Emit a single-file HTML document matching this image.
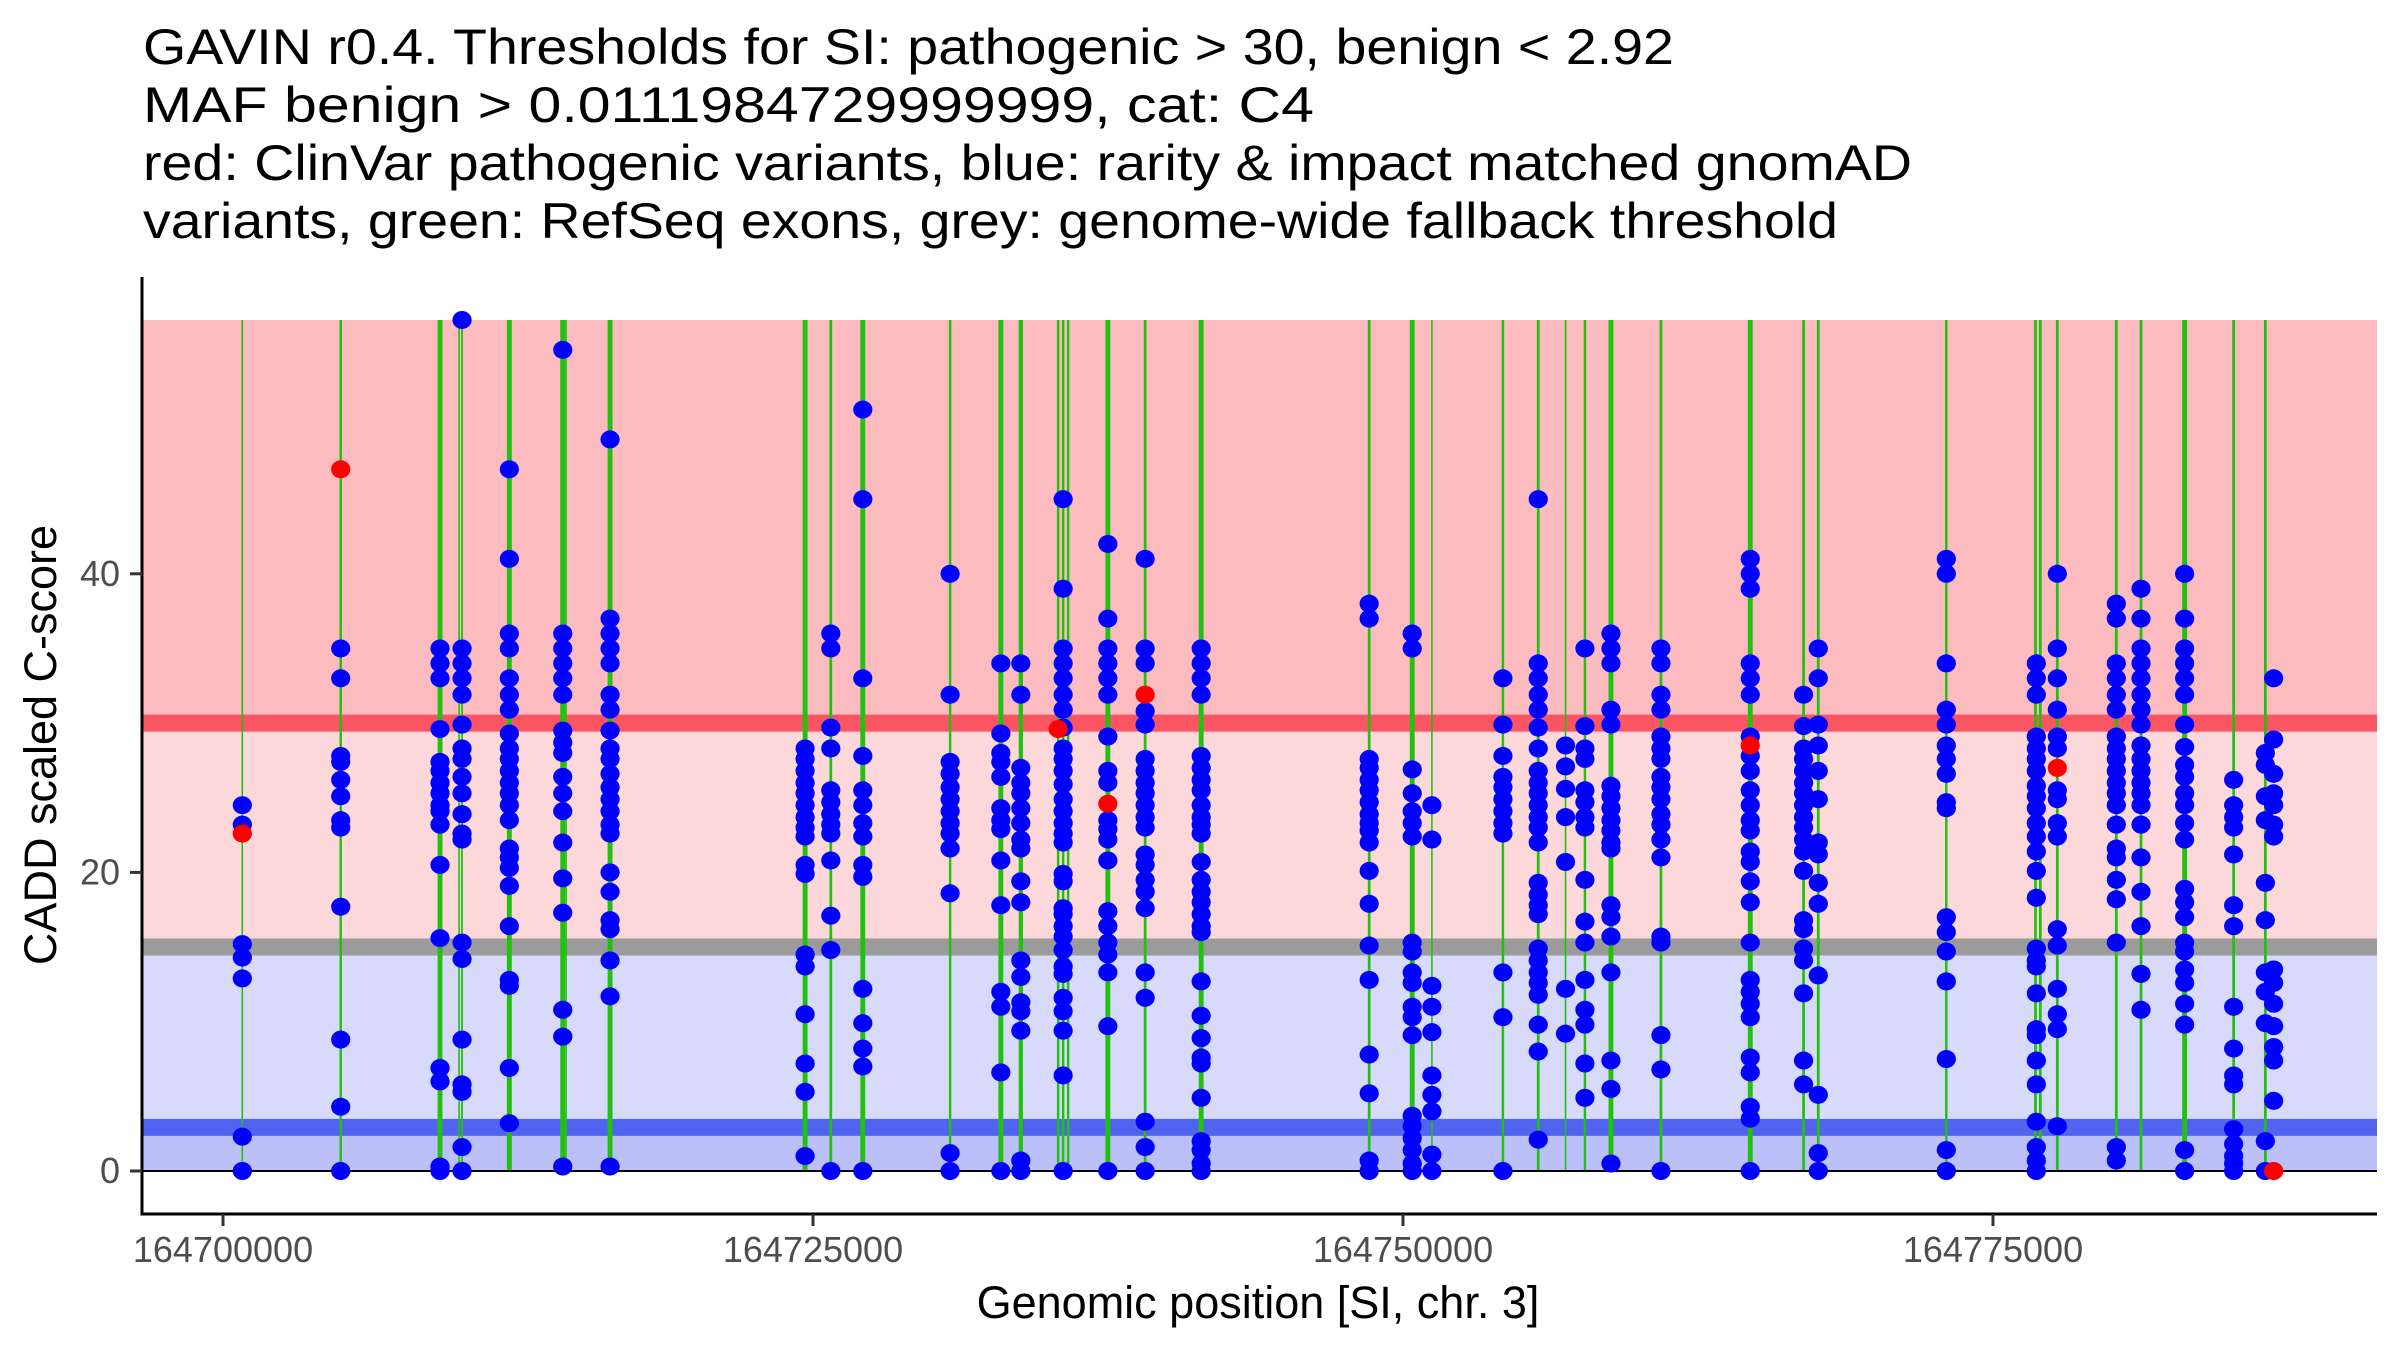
<!DOCTYPE html>
<html><head><meta charset="utf-8">
<style>
html,body{margin:0;padding:0;background:#fff;}
svg{display:block;font-family:"Liberation Sans",Arial,sans-serif;}
</style></head>
<body>
<svg id="chart" width="2400" height="1350" viewBox="0 0 2400 1350" xmlns="http://www.w3.org/2000/svg">
  <g font-size="50" fill="#000">
    <text x="143" y="64" textLength="1531" lengthAdjust="spacingAndGlyphs">GAVIN r0.4. Thresholds for SI: pathogenic &gt; 30, benign &lt; 2.92</text>
    <text x="143" y="122" textLength="1171" lengthAdjust="spacingAndGlyphs">MAF benign &gt; 0.0111984729999999, cat: C4</text>
    <text x="143" y="180" textLength="1769" lengthAdjust="spacingAndGlyphs">red: ClinVar pathogenic variants, blue: rarity &amp; impact matched gnomAD</text>
    <text x="143" y="238" textLength="1695" lengthAdjust="spacingAndGlyphs">variants, green: RefSeq exons, grey: genome-wide fallback threshold</text>
  </g>
  <g id="bands"></g>
  <g id="exons"></g>
  <g id="zero"></g>
  <g id="points"></g>
  <g id="axes"></g>
  <text x="1258" y="1318" font-size="45" text-anchor="middle" fill="#000">Genomic position [SI, chr. 3]</text>
  <text transform="translate(56,745) rotate(-90)" font-size="45" text-anchor="middle" fill="#000">CADD scaled C-score</text>
</svg>
<script>
const xTicks = [164700000, 164725000, 164750000, 164775000];
const xTickLabels = ["164700000", "164725000", "164750000", "164775000"];
const yTicks = [0, 20, 40];
const yTickLabels = ["0", "20", "40"];
const pathogenicThreshold = 30;
const benignThreshold = 2.92;
const fallbackThreshold = 15;
const scoreMax = 57;

const exonStart = [164700818,164704988,164709196,164710002,164710129,164712133,164714396,164714536,164716401,
  164724665,164725754,164727110,164730810,164732959,164733806,164735387,164735599,164735811,164737494,
  164739074,164741448,164748567,164750390,164751225,164754234,164755730,164756887,164757709,164758811,
  164760930,164764714,164766973,164767596,164773021,164776800,164777005,164777725,164780225,164781272,
  164783120,164785197,164786540];
const exonLength = [30,80,160,30,60,160,160,30,160,
  160,90,160,80,160,140,80,80,80,160,
  90,160,90,160,30,80,90,30,80,160,
  90,160,90,90,80,90,90,90,90,90,
  160,90,90];

const gnomadColPos = [164700818,164704988,164709196,164710129,164712133,164714396,164716401,164724665,164725754,
  164727110,164730810,164732959,164733806,164735599,164737494,164739074,164741448,164748567,164750390,
  164751225,164754234,164755730,164756887,164757709,164758811,164760930,164764714,164766973,164767596,
  164773021,164776835,164777725,164780225,164781272,164783120,164785197,164786540,164786892];
const gnomadColScores = [
  [24.5,23.2,15.2,14.3,12.9,2.3,0],
  [35,33,27.8,27.4,26.2,25.1,23.5,23,17.7,8.8,4.3,0],
  [35,34,33,29.6,27.4,26.8,26,25.3,24.5,24.1,23.2,20.5,15.6,6.9,6,0.3,0],
  [57,35,34,33,31.9,29.9,28.3,27.6,26.4,25.3,23.9,22.6,22.2,15.3,14.2,8.8,5.8,5.3,1.6,0],
  [47,41,36,35,33,31.9,30.9,29.3,28.3,27.6,26.8,26,25.3,24.5,23.5,21.6,21,20.3,19.1,16.4,12.8,12.4,6.9,3.2],
  [55,36,35,34,33,31.9,29.5,28.7,28,26.4,25.3,24.1,22,19.6,17.3,10.8,9,0.3],
  [49,37,36,35,34,31.9,30.9,29.5,28.3,27.6,26.6,25.7,24.9,24.1,23.2,22.6,20,18.7,16.8,16.2,14.1,11.7,0.3],
  [28.3,27.6,26.8,26,25.3,24.5,23.7,23,22.4,20.5,19.9,14.5,13.7,10.5,7.2,5.3,1],
  [36,35,29.7,28.3,25.5,24.7,23.9,23.2,22.6,20.8,17.1,14.8,0],
  [51,45,33,27.8,25.5,24.5,23.3,22.4,20.5,19.7,12.2,9.9,8.2,7,0],
  [40,31.9,27.4,26.6,25.7,24.9,24.1,23.3,22.6,21.6,18.6,1.2,0],
  [34,29.3,28,27.4,26.4,24.3,23.5,22.9,20.8,17.8,12,11,6.6,0],
  [34,31.9,27,26,25.3,24.3,23.3,22.2,21.6,19.4,18,14.1,13,11.3,10.7,9.4,0.7,0],
  [45,39,35,34,33,31.9,30.9,29.7,28.3,27.6,26.8,25.9,24.9,24.1,23.3,22.6,22,19.9,19.4,17.6,17.2,16.4,15.7,14.8,13.7,13.2,11.6,10.7,9.4,6.4,0],
  [42,37,35,34,33,31.9,29.1,26.8,26,23.5,22.9,22.2,20.8,17.4,16.4,15.3,14.5,13.3,9.7,0],
  [41,35,34,30.8,29.9,27.6,26.8,26,25.3,24.5,23.7,23,21.2,20.5,19.5,18.7,17.6,13.3,11.6,3.3,1.6,0],
  [35,34,33,31.9,27.8,27,26.2,25.5,24.5,23.7,23.2,22.6,20.7,19.5,18.7,18,17.2,16.4,16,12.7,10.4,8.9,7.6,7.2,4.9,2,1.4,0.5,0],
  [38,37,27.6,27,26.2,25.5,24.7,23.9,23.3,22.8,22,20.1,17.9,15.1,12.8,7.8,5.2,0.7,0],
  [36,35,26.9,25.3,24.1,23.3,22.4,15.3,14.7,13.3,12.6,11,10.3,9.1,3.7,3,2.2,1.4,0.5,0],
  [24.5,22.2,12.4,11,9.3,6.4,5.1,4,1.1,0],
  [33,29.9,27.8,26.4,25.7,24.9,24.1,23.3,22.6,13.3,10.3,0],
  [45,34,33,31.9,30.9,29.7,28.3,26.8,26,25.3,24.5,23.7,23,22,19.3,18.5,17.8,17.2,14.9,14.1,13.3,12.6,11.8,9.8,8,2.1],
  [28.5,27.1,25.6,23.7,20.7,12.2,9.2],
  [35,29.8,28.3,27.6,25.5,24.7,23.7,23,19.5,16.7,15.3,12.8,10.8,9.8,7.2,4.9],
  [36,35,34,30.9,29.9,25.8,25.1,24.3,23.5,22.8,22,21.6,17.8,17,15.7,13.3,7.4,5.5,0.5],
  [35,34,31.9,30.9,29.1,28.3,27.6,26.4,25.7,24.9,23.9,23.2,22.2,21,15.7,15.3,9.1,6.8,0],
  [41,40,39,34,33,31.9,29.1,27.8,26.8,25.5,24.5,23.5,22.8,21.4,20.7,19.4,18,15.3,12.8,12,11.2,10.3,7.6,6.6,4.3,3.5,0],
  [31.9,29.8,28.3,27.6,26.8,26,25.3,24.5,23.7,23,22.2,21.4,20.1,16.8,16.2,14.9,14.1,11.9,7.4,5.8],
  [35,33,29.9,28.5,26.8,24.9,22,21.2,19.3,17.9,13.1,5.1,1.2,0],
  [41,40,34,30.9,29.9,28.5,27.6,26.6,24.7,24.3,17,16,14.7,12.7,7.5,1.4,0],
  [34,33,31.9,29.1,28.3,27.6,26.8,25.8,25.1,24.3,23.3,22.4,21.4,20.1,18.3,14.9,14.1,13.7,11.9,9.5,9.1,7.4,5.8,3.3,1.6,0.7,0],
  [40,35,33,30.9,29.1,28.3,25.5,24.9,23.3,22.4,16.2,15.1,12.2,10.5,9.5,3],
  [38,37,34,33,31.9,30.9,29.1,28.3,27.6,26.8,26,25.3,24.5,23.2,21.6,21,19.5,18.2,15.3,1.6,0.7],
  [39,37,35,34,33,31.9,30.9,29.9,28.5,27.6,26.8,26,25.3,24.5,23.2,21,18.7,16.4,13.2,10.8],
  [40,37,35,34,33,31.9,29.9,28.4,27.2,26.4,25.3,24.5,23.3,22.2,18.9,18,17,15.3,14.7,13.5,12.6,11.2,9.8,1.4,0],
  [26.2,24.5,23.7,23,21.2,17.8,16.4,11,8.2,6.4,5.8,2.8,1.8,1,0.5,0],
  [28,27.2,25.1,23.5,19.3,16.8,13.3,12,9.9,2,0],
  [33,28.9,26.6,25.3,24.5,23.2,22.4,13.5,12.6,11.2,9.7,8.3,7.4,4.7]
];
const clinvarPos = [164700818,164704988,164735387,164737494,164739074,164764714,164777725,164786892];
const clinvarScore = [22.6,47.0,29.6,24.6,31.9,28.5,27.0,0];

const NS = "http://www.w3.org/2000/svg";
const plotLeft = 142, plotRight = 2377, panelBottom = 1214, panelTop = 277;
const X0 = 164700000, xPxPerBp = (1993 - 223) / 75000;
function xScale(p){ return 223 + (p - X0) * xPxPerBp; }
function yScale(v){ return 1171 - v * 14.93; }
function mk(tag, attrs, parent){
  const e = document.createElementNS(NS, tag);
  for (const k in attrs) e.setAttribute(k, attrs[k]);
  parent.appendChild(e);
  return e;
}

const bands = document.getElementById('bands');
let r;
r = mk('rect', {x: plotLeft, y: yScale(scoreMax), width: plotRight - plotLeft, height: yScale(pathogenicThreshold) - yScale(scoreMax), fill: '#FCBBBF'}, bands);


r = mk('rect', {x: plotLeft, y: yScale(pathogenicThreshold), width: plotRight - plotLeft, height: yScale(fallbackThreshold) - yScale(pathogenicThreshold), fill: '#FDD8DB'}, bands);


r = mk('rect', {x: plotLeft, y: yScale(fallbackThreshold), width: plotRight - plotLeft, height: yScale(benignThreshold) - yScale(fallbackThreshold), fill: '#D7DAFA'}, bands);


r = mk('rect', {x: plotLeft, y: yScale(benignThreshold), width: plotRight - plotLeft, height: yScale(0) - yScale(benignThreshold), fill: '#BBC1F8'}, bands);


let l;
l = mk('line', {x1: plotLeft, x2: plotRight, y1: yScale(pathogenicThreshold), y2: yScale(pathogenicThreshold), stroke: '#F95563', 'stroke-width': 17}, bands);


l = mk('line', {x1: plotLeft, x2: plotRight, y1: yScale(fallbackThreshold), y2: yScale(fallbackThreshold), stroke: '#9B9B9B', 'stroke-width': 17}, bands);


l = mk('line', {x1: plotLeft, x2: plotRight, y1: yScale(benignThreshold), y2: yScale(benignThreshold), stroke: '#5064F0', 'stroke-width': 17}, bands);



const exG = document.getElementById('exons');
for (let i = 0; i < exonStart.length; i++){
  const x1 = xScale(exonStart[i]);
  const w = Math.max(1.6, exonLength[i] * xPxPerBp * 1.3);
  const e = mk('rect', {x: x1 - w/2, y: yScale(scoreMax), width: w, height: yScale(0) - yScale(scoreMax), fill: '#22C10F'}, exG);
  
  
}

const z = mk('line', {x1: plotLeft, x2: plotRight, y1: yScale(0), y2: yScale(0), stroke: '#000', 'stroke-width': 2}, document.getElementById('zero'));



const pG = document.getElementById('points');
for (let i = 0; i < gnomadColPos.length; i++){
  const scores = gnomadColScores[i];
  for (let j = 0; j < scores.length; j++){
    const c = mk('ellipse', {cx: xScale(gnomadColPos[i]), cy: yScale(scores[j]), rx: 9.6, ry: 9, fill: '#0000FF'}, pG);
    
    
  }
}
for (let i = 0; i < clinvarPos.length; i++){
  const c = mk('ellipse', {cx: xScale(clinvarPos[i]), cy: yScale(clinvarScore[i]), rx: 9.6, ry: 9, fill: '#FF0000'}, pG);
  
  
}

const ax = document.getElementById('axes');
let a;
a = mk('line', {x1: plotLeft, x2: plotLeft, y1: panelTop, y2: panelBottom + 1.5, stroke: '#000', 'stroke-width': 3}, ax);


a = mk('line', {x1: plotLeft - 1.5, x2: plotRight, y1: panelBottom, y2: panelBottom, stroke: '#000', 'stroke-width': 3}, ax);


for (let i = 0; i < xTicks.length; i++){
  const x = xScale(xTicks[i]);
  const t = mk('line', {x1: x, x2: x, y1: panelBottom, y2: panelBottom + 12, stroke: '#333', 'stroke-width': 3}, ax);
  
  
  const tx = mk('text', {x: x, y: 1262, 'font-size': 36, 'text-anchor': 'middle', fill: '#4D4D4D'}, ax);
  tx.textContent = xTickLabels[i];
  
  
}
for (let i = 0; i < yTicks.length; i++){
  const y = yScale(yTicks[i]);
  const t = mk('line', {x1: plotLeft - 12, x2: plotLeft, y1: y, y2: y, stroke: '#333', 'stroke-width': 3}, ax);
  
  
  const tx = mk('text', {x: plotLeft - 22, y: y + 12, 'font-size': 36, 'text-anchor': 'end', fill: '#4D4D4D'}, ax);
  tx.textContent = yTickLabels[i];
  
  
}
</script>
</body></html>
